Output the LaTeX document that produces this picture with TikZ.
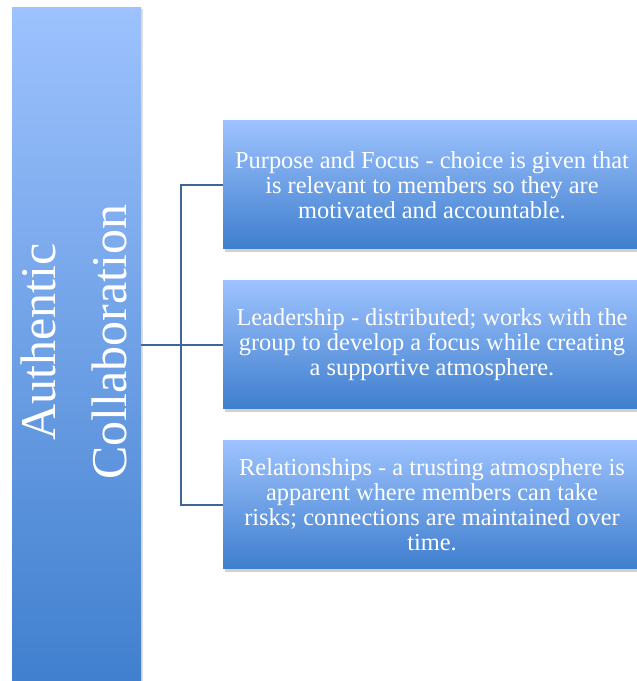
\documentclass[tikz,border=0pt]{standalone}
\usepackage{fontspec}
\setmainfont{Liberation Serif}
\usetikzlibrary{shadows}

\definecolor{toplight}{HTML}{9DC2FE}
\definecolor{botdark}{HTML}{3E7ECD}
\definecolor{linkblue}{HTML}{3D6696}

\begin{document}
\begin{tikzpicture}[x=1pt,y=1pt,
  sidebox/.style={rectangle, top color=toplight, bottom color=botdark,
    minimum width=129pt, minimum height=690pt, inner sep=0pt,
    drop shadow={opacity=0.25, shadow xshift=1.5pt, shadow yshift=-1.5pt}},
  itembox/.style={rectangle, top color=toplight, bottom color=botdark,
    minimum width=418pt, minimum height=128pt, inner sep=0pt,
    text=white, align=center,
    font=\fontsize{24.4}{25}\selectfont,
    drop shadow={opacity=0.35, shadow xshift=2pt, shadow yshift=-3pt}},
  link/.style={draw=linkblue, line width=1.4pt}
]
\useasboundingbox (0,0) rectangle (637,681);
\fill[white] (0,0) rectangle (637,681);

% left column
\node[sidebox] (auth) at (76.5,328) {};
\node[text=white, rotate=90, align=center,
  font=\fontsize{50}{71}\selectfont] (title) at (74,339)
  {Authentic\\Collaboration};

% the three items
\node[itembox] (purpose) at (432,496)
  {Purpose and Focus - choice is given that\\is relevant to members so they are\\motivated and accountable.};
\node[itembox] (leader) at (432,336)
  {Leadership - distributed; works with the\\group to develop a focus while creating\\a supportive atmosphere.};
\node[itembox] (relation) at (432,176)
  {Relationships - a trusting atmosphere is\\apparent where members can take\\risks; connections are maintained over\\time.};

% connectors
\coordinate (fork) at (181,336);
\draw[link] (auth.east |- fork) -- (leader.west);
\draw[link] (purpose.west) -| (fork) |- (relation.west);
\end{tikzpicture}
\end{document}
